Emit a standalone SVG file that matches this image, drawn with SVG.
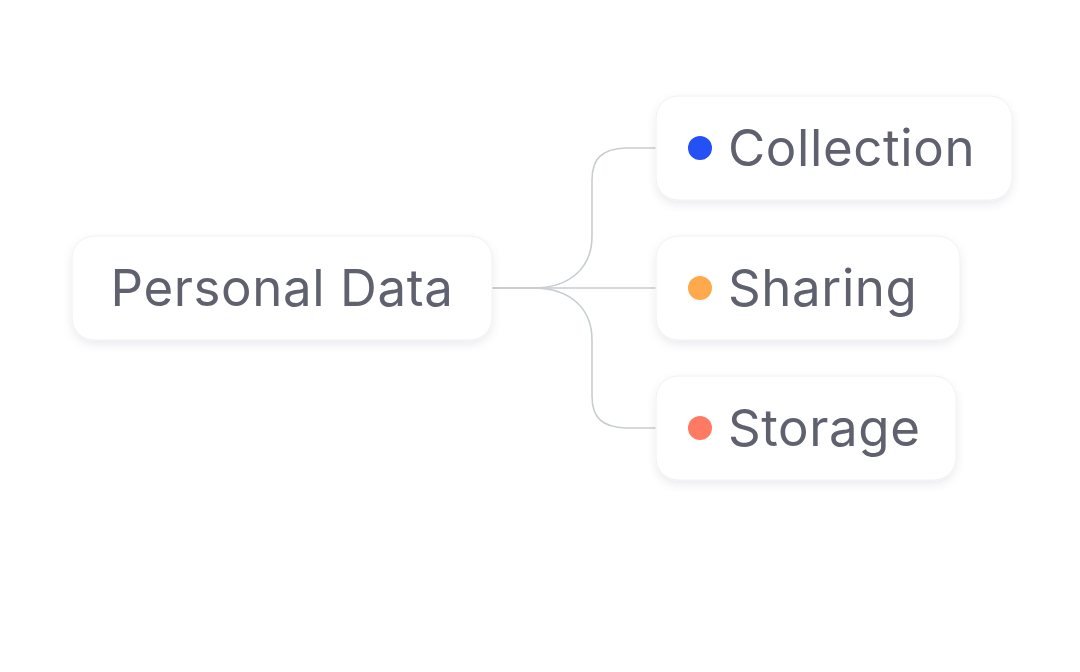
<svg xmlns="http://www.w3.org/2000/svg" width="1080" height="672" viewBox="0 0 1080 672">
<defs>
<style>
.box{fill:#ffffff;stroke:#eef0f1;stroke-width:1;filter:url(#sh)}
.lbl{font-family:Inter,"Noto Sans",sans-serif;font-size:51px;letter-spacing:0.6px;fill:#5f616f}
.con{fill:none;stroke:#c8cdd0;stroke-width:1.6}
</style>
<filter id="sh" x="-20%" y="-30%" width="140%" height="170%">
<feDropShadow dx="0" dy="4" stdDeviation="5" flood-color="#1c2a3a" flood-opacity="0.08"/>
</filter>
</defs>
<rect width="1080" height="672" fill="#ffffff"/>
<g id="connectors">
<path class="con" d="M492,288 H533 C572,288 592,266 592,236 V180 C592,158 602,149 626,148 H660"/>
<path class="con" d="M492,288 H660"/>
<path class="con" d="M492,288 H533 C572,288 592,310 592,340 V396 C592,418 602,427 626,428 H660"/>
</g>
<g id="personal-data">
<rect class="box" x="72" y="236" width="420" height="104" rx="22"/>
<text class="lbl" x="282" y="306" text-anchor="middle">Personal Data</text>
</g>
<g id="collection">
<rect class="box" x="656" y="96" width="356" height="104" rx="22"/>
<circle cx="700" cy="148" r="12" fill="#2451f5"/>
<text class="lbl" x="728" y="166">Collection</text>
</g>
<g id="sharing">
<rect class="box" x="656" y="236" width="304" height="104" rx="22"/>
<circle cx="700" cy="288" r="12" fill="#ffa94d"/>
<text class="lbl" x="728" y="306">Sharing</text>
</g>
<g id="storage">
<rect class="box" x="656" y="376" width="300" height="104" rx="22"/>
<circle cx="700" cy="428" r="12" fill="#ff7a63"/>
<text class="lbl" x="728" y="446">Storage</text>
</g>
</svg>
